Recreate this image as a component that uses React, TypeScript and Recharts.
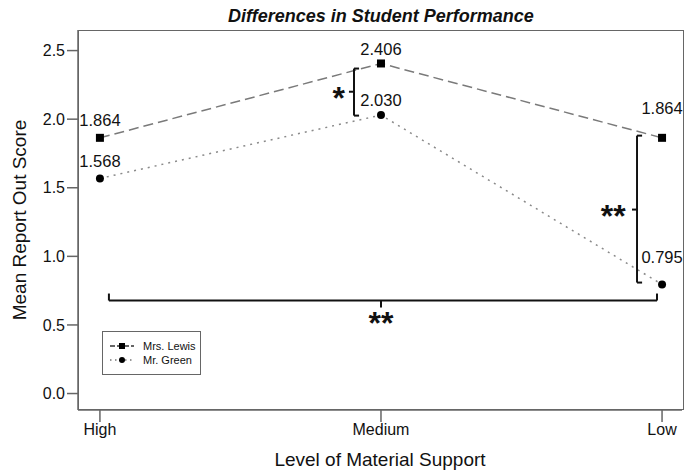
import { Line, LineChart, ReferenceDot, ReferenceLine, XAxis, YAxis, LabelList } from 'recharts';

const categories = ['High', 'Medium', 'Low'];
const lewisScores = [1.864, 2.406, 1.864];
const greenScores = [1.568, 2.03, 0.795];
const yTicks = [0, 0.5, 1, 1.5, 2, 2.5];

// significance brackets, in data units (x = category index)
const brackets = [
  { x: 0.904, y1: 2.369, y2: 2.026, mid: 2.2, star: '*', sx: 0.85 },
  { x: 1.911, y1: 1.88, y2: 0.809, mid: 1.341, star: '**', sx: 1.826 },
];
const bottomBracket = { y: 0.678, x1: 0.032, x2: 1.982, hook: 0.729, mid: 0.627, starY: 0.56 };

const data = categories.map((name, i) => ({ pos: i, name, lewis: lewisScores[i], green: greenScores[i] }));

const FONT = '"Liberation Sans", Arial, sans-serif';
const lewisLabelLift = [12, 8, 24];
const greenLabelLift = [11, 9, 21];

const square = (p: any) => <rect key={`s${p.index}`} x={p.cx - 4} y={p.cy - 4} width={8} height={8} fill='#000' />;
const circle = (p: any) => <circle key={`c${p.index}`} cx={p.cx} cy={p.cy} r={4} fill='#000' />;

const makeLabel = (lift: number[]) => (p: any) => (
  <text x={p.x} y={p.y - lift[p.index]} textAnchor='middle' fontSize={16.5} fontFamily={FONT} fill='#111'>
    {Number(p.value).toFixed(3)}
  </text>
);

const star = (text: string) => (p: any) => (
  <text x={p.cx} y={p.cy + 17} textAnchor='middle' fontSize={32} fontWeight='bold' fontFamily={FONT} fill='#111'>
    {text}
  </text>
);

const seg = (x1: number, y1: number, x2: number, y2: number, key: string) => (
  <ReferenceLine
    key={key}
    segment={[{ x: x1, y: y1 }, { x: x2, y: y2 }]}
    stroke='#111'
    strokeWidth={2}
    ifOverflow='visible'
  />
);

function LegendBox() {
  return (
    <div style={{ position: 'absolute', left: 102, top: 331, border: '1.5px solid #666', width: 99, height: 44, boxSizing: 'border-box', padding: '7px 0 0 6px', fontFamily: FONT, fontSize: 11, color: '#111', background: '#fff' }}>
      <div style={{ display: 'flex', alignItems: 'center', height: 14 }}>
        <svg width={26} height={10}>
          <line x1={1} y1={5} x2={25} y2={5} stroke='#333' strokeWidth={1.5} strokeDasharray='5 2' />
          <rect x={10} y={2} width={6} height={6} fill='#000' />
        </svg>
        <span style={{ marginLeft: 8 }}>Mrs. Lewis</span>
      </div>
      <div style={{ display: 'flex', alignItems: 'center', height: 14 }}>
        <svg width={26} height={10}>
          <line x1={1} y1={5} x2={25} y2={5} stroke='#777' strokeWidth={1.5} strokeDasharray='1.5 3.5' />
          <circle cx={13} cy={5} r={3} fill='#000' />
        </svg>
        <span style={{ marginLeft: 8 }}>Mr. Green</span>
      </div>
    </div>
  );
}

export default function App() {
  return (
    <div style={{ position: 'absolute', left: 0, top: 0, width: 684, height: 471, background: '#fff', overflow: 'hidden' }}>
      <LineChart width={684} height={471} data={data} margin={{ top: 30, right: 2, left: 0, bottom: 0 }}>
        <XAxis
          dataKey='pos'
          type='number'
          domain={[-0.078, 2.071]}
          ticks={[0, 1, 2]}
          tickFormatter={(v: number) => categories[v]}
          allowDataOverflow
          height={61}
          tickSize={12}
          stroke='#666'
          strokeWidth={1.5}
          tick={{ fill: '#111', fontSize: 16, fontFamily: FONT }}
          label={{ value: 'Level of Material Support', position: 'insideBottom', offset: 5, fill: '#111', fontSize: 19, fontFamily: FONT }}
        />
        <YAxis
          type='number'
          domain={[-0.12, 2.65]}
          ticks={yTicks}
          allowDataOverflow
          width={78}
          tickSize={11}
          tickMargin={2}
          stroke='#666'
          strokeWidth={1.5}
          tickFormatter={(v: number) => v.toFixed(1)}
          tick={{ fill: '#111', fontSize: 16, fontFamily: FONT }}
        />
        <Line
          name='Mrs. Lewis'
          dataKey='lewis'
          stroke='#7a7a7a'
          strokeWidth={1.5}
          strokeDasharray='10 5'
          dot={square}
          activeDot={false}
          isAnimationActive={false}
        >
          <LabelList dataKey='lewis' content={makeLabel(lewisLabelLift)} />
        </Line>
        <Line
          name='Mr. Green'
          dataKey='green'
          stroke='#8a8a8a'
          strokeWidth={1.5}
          strokeDasharray='2 5'
          dot={circle}
          activeDot={false}
          isAnimationActive={false}
        >
          <LabelList dataKey='green' content={makeLabel(greenLabelLift)} />
        </Line>
        {brackets.flatMap((b, i) => [
          seg(b.x, b.y1, b.x, b.y2, `v${i}`),
          seg(b.x, b.y1, b.x + 0.018, b.y1, `t${i}`),
          seg(b.x, b.y2, b.x + 0.018, b.y2, `b${i}`),
          seg(b.x, b.mid, b.x - 0.018, b.mid, `m${i}`),
        ])}
        {brackets.map((b, i) => (
          <ReferenceDot key={`star${i}`} x={b.sx} y={b.mid} r={0} ifOverflow='visible' shape={star(b.star)} />
        ))}
        {seg(bottomBracket.x1, bottomBracket.y, bottomBracket.x2, bottomBracket.y, 'bh')}
        {seg(bottomBracket.x1, bottomBracket.y, bottomBracket.x1, bottomBracket.hook, 'bl')}
        {seg(bottomBracket.x2, bottomBracket.y, bottomBracket.x2, bottomBracket.hook, 'br')}
        {seg(1, bottomBracket.y, 1, bottomBracket.mid, 'bm')}
        <ReferenceDot x={1} y={bottomBracket.starY} r={0} ifOverflow='visible' shape={star('**')} />
      </LineChart>
      <div style={{ position: 'absolute', left: 78, top: 30, width: 606, height: 380, border: '1.5px solid #666', boxSizing: 'border-box', pointerEvents: 'none' }} />
      <div style={{ position: 'absolute', left: 0, width: 762, top: 6, textAlign: 'center', fontFamily: FONT, fontSize: 18, fontWeight: 'bold', fontStyle: 'italic', color: '#111' }}>
        Differences in Student Performance
      </div>
      <div style={{ position: 'absolute', left: 20, top: 220, width: 0, height: 0 }}>
        <div style={{ position: 'absolute', left: -150, top: -11, width: 300, textAlign: 'center', transform: 'rotate(-90deg)', fontFamily: FONT, fontSize: 19, color: '#111', lineHeight: '22px' }}>
          Mean Report Out Score
        </div>
      </div>
      <LegendBox />
    </div>
  );
}
